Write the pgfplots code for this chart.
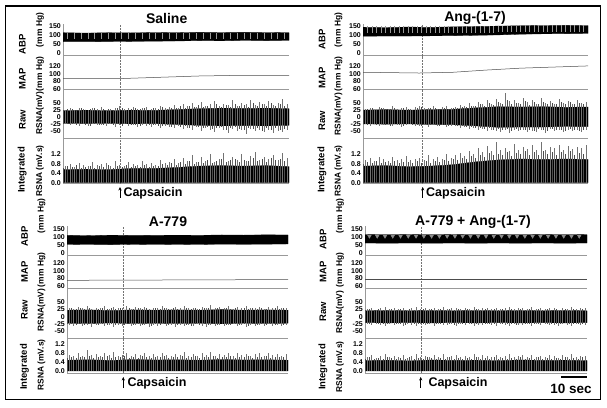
\documentclass[border=0pt]{standalone}
\usepackage{pgfplots}
\pgfplotsset{compat=1.18}
\usepackage{pgfplotstable}
\usepackage{fontspec}
\setmainfont{Liberation Sans}
\usetikzlibrary{arrows.meta}

% ---------- Saline: odd-x spikes and even-x spikes ----------
\pgfplotstableread{
x rh rl ih
1 26 -24 0.72
3 30 -28 0.80
5 24 -22 0.68
7 33 -30 0.85
9 27 -26 0.75
11 25 -33 0.70
13 31 -25 0.88
15 28 -29 0.74
17 35 -27 0.78
19 26 -31 0.82
21 29 -24 0.70
23 32 -35 0.90
25 38 -28 0.76
27 27 -26 0.72
29 30 -32 0.86
31 34 -29 0.79
33 28 -36 0.74
35 31 -27 0.92
37 36 -30 0.78
39 29 -34 0.84
41 33 -28 0.76
43 40 -38 0.95
45 30 -31 0.82
47 35 -35 0.88
49 42 -40 1.00
51 33 -33 0.85
53 45 -42 1.05
55 38 -37 0.90
57 48 -45 1.15
59 36 -36 0.86
61 52 -48 1.10
63 40 -39 0.92
65 44 -44 1.20
67 55 -52 0.88
69 38 -40 1.02
71 47 -46 1.25
73 42 -55 0.90
75 58 -43 1.08
77 40 -49 0.95
79 50 -45 1.22
81 45 -58 0.92
83 60 -41 1.12
85 42 -50 1.28
87 53 -47 0.94
89 46 -53 1.10
91 57 -44 1.00
93 41 -56 1.18
95 50 -48 0.96
97 62 -51 1.24
99 45 -46 1.05
}\saline
\pgfplotstableread{
x rh rl ih
0 24 -23 0.62
2 27 -26 0.70
4 29 -24 0.66
6 25 -28 0.74
8 30 -25 0.64
10 26 -27 0.68
12 28 -30 0.72
14 32 -24 0.63
16 25 -27 0.70
18 29 -29 0.66
20 27 -25 0.75
22 24 -28 0.64
24 30 -26 0.70
26 33 -30 0.67
28 26 -25 0.73
30 29 -28 0.65
32 31 -27 0.71
34 27 -31 0.68
36 30 -26 0.74
38 26 -29 0.66
40 32 -27 0.72
42 28 -30 0.70
44 34 -32 0.78
46 29 -28 0.74
48 33 -34 0.82
50 30 -29 0.76
52 37 -35 0.86
54 32 -31 0.79
56 40 -38 0.92
58 34 -33 0.80
60 43 -36 0.88
62 35 -40 0.82
64 38 -34 0.95
66 33 -42 0.84
68 45 -37 0.90
70 36 -35 0.98
72 41 -44 0.86
74 34 -38 0.94
76 47 -36 1.00
78 37 -41 0.88
80 42 -46 0.96
82 36 -39 0.90
84 48 -43 1.04
86 39 -37 0.92
88 44 -48 0.98
90 37 -40 0.88
92 50 -45 1.06
94 40 -39 0.94
96 45 -47 1.00
98 38 -42 0.90
}\salineb

% ---------- Ang-(1-7) ----------
\pgfplotstableread{
x rh rl ih
1 28 -26 0.95
3 33 -30 1.05
5 26 -24 0.90
7 35 -33 1.10
9 30 -28 0.98
11 27 -25 0.92
13 38 -31 1.08
15 29 -27 0.96
17 32 -35 1.02
19 36 -29 1.12
21 28 -26 0.94
23 34 -32 1.00
25 40 -30 1.06
27 30 -28 0.95
29 33 -34 1.15
31 37 -29 1.00
33 29 -31 1.08
35 35 -27 0.98
37 39 -36 1.20
39 31 -30 1.05
41 36 -33 1.15
43 42 -38 1.25
45 38 -35 1.12
47 48 -42 1.35
49 40 -40 1.22
51 52 -46 1.45
53 44 -43 1.30
55 58 -50 1.55
57 46 -45 1.32
59 62 -48 1.70
61 50 -52 1.40
63 85 -44 1.48
65 55 -55 1.35
67 60 -47 1.62
69 48 -50 1.38
71 65 -45 1.50
73 52 -53 1.42
75 58 -48 1.58
77 47 -51 1.36
79 68 -46 1.72
81 50 -55 1.40
83 56 -43 1.52
85 45 -49 1.45
87 62 -45 1.60
89 49 -52 1.38
91 55 -44 1.55
93 46 -50 1.42
95 60 -47 1.50
97 50 -53 1.48
99 54 -45 1.58
}\angdata
\pgfplotstableread{
x rh rl ih
0 25 -24 0.80
2 28 -27 0.86
4 30 -25 0.82
6 26 -29 0.90
8 31 -26 0.84
10 27 -28 0.88
12 29 -31 0.85
14 33 -25 0.92
16 26 -28 0.83
18 30 -30 0.89
20 28 -26 0.86
22 25 -29 0.82
24 31 -27 0.90
26 34 -31 0.85
28 27 -26 0.91
30 30 -29 0.84
32 32 -28 0.92
34 28 -32 0.88
36 31 -27 0.94
38 29 -30 0.90
40 33 -29 0.98
42 30 -33 0.95
44 36 -31 1.04
46 34 -36 1.00
48 40 -34 1.12
50 37 -39 1.06
52 45 -37 1.18
54 40 -42 1.10
56 48 -40 1.25
58 42 -44 1.15
60 52 -41 1.22
62 45 -46 1.18
64 58 -43 1.30
66 44 -48 1.14
68 50 -42 1.26
70 46 -45 1.20
72 55 -47 1.32
74 43 -44 1.16
76 52 -49 1.28
78 47 -43 1.18
80 54 -46 1.34
82 44 -48 1.20
84 50 -42 1.30
86 46 -47 1.16
88 53 -45 1.28
90 45 -49 1.22
92 51 -43 1.32
94 44 -46 1.18
96 49 -48 1.26
98 46 -44 1.20
}\angdatab

% ---------- A-779 ----------
\pgfplotstableread{
x rh rl ih
1 30 -28 0.72
3 26 -33 0.65
5 34 -25 0.80
7 28 -30 0.68
9 36 -27 0.95
11 27 -35 0.70
13 31 -29 0.74
15 29 -26 0.66
17 35 -32 0.78
19 26 -28 0.70
21 33 -34 0.85
23 28 -27 0.68
25 30 -30 0.72
27 36 -26 0.80
29 27 -33 0.66
31 32 -29 0.75
33 29 -31 0.70
35 34 -27 0.82
37 26 -35 0.65
39 31 -28 0.74
41 28 -30 0.68
43 35 -26 0.78
45 30 -32 0.72
47 27 -29 0.66
49 33 -34 0.76
51 29 -27 0.70
53 36 -31 0.84
55 28 -28 0.68
57 31 -33 0.74
59 27 -26 0.66
61 34 -30 0.80
63 30 -35 0.70
65 38 -28 0.86
67 28 -31 0.68
69 32 -27 0.75
71 29 -33 0.70
73 35 -29 0.78
75 27 -26 0.65
77 33 -32 0.82
79 30 -28 0.70
81 36 -34 0.76
83 28 -27 0.68
85 31 -30 0.74
87 34 -29 0.80
89 27 -33 0.66
91 32 -26 0.78
93 29 -31 0.70
95 35 -28 0.76
97 28 -32 0.68
99 31 -27 0.74
}\adata
\pgfplotstableread{
x rh rl ih
0 24 -25 0.58
2 28 -23 0.62
4 25 -27 0.56
6 30 -24 0.64
8 26 -28 0.60
10 29 -25 0.66
12 24 -26 0.58
14 27 -29 0.63
16 31 -24 0.60
18 25 -27 0.65
20 28 -25 0.57
22 26 -28 0.62
24 30 -26 0.60
26 24 -29 0.66
28 29 -24 0.58
30 26 -27 0.63
32 31 -25 0.59
34 25 -28 0.65
36 28 -26 0.61
38 24 -30 0.58
40 30 -25 0.64
42 26 -27 0.60
44 28 -24 0.66
46 25 -29 0.58
48 31 -26 0.63
50 27 -28 0.60
52 24 -25 0.65
54 30 -27 0.59
56 26 -30 0.62
58 29 -24 0.66
60 25 -27 0.58
62 28 -25 0.64
64 31 -29 0.60
66 24 -26 0.65
68 29 -28 0.58
70 26 -24 0.62
72 30 -27 0.60
74 25 -29 0.66
76 28 -25 0.59
78 24 -28 0.63
80 30 -26 0.60
82 26 -30 0.65
84 29 -24 0.58
86 25 -27 0.62
88 31 -25 0.60
90 27 -29 0.66
92 24 -26 0.58
94 29 -28 0.63
96 26 -24 0.60
98 28 -27 0.64
}\adatab

% ---------- A-779 + Ang-(1-7) ----------
\pgfplotstableread{
x rh rl ih
1 26 -25 0.62
3 30 -29 0.70
5 24 -23 0.58
7 28 -27 0.66
9 32 -31 0.74
11 25 -24 0.60
13 29 -28 0.68
15 27 -26 0.64
17 31 -30 0.72
19 24 -25 0.58
21 28 -27 0.66
23 33 -32 0.76
25 26 -24 0.62
27 29 -28 0.68
29 25 -26 0.60
31 30 -30 0.72
33 27 -25 0.64
35 32 -29 0.74
37 26 -27 0.62
39 28 -24 0.66
41 31 -30 0.70
43 25 -26 0.60
45 29 -28 0.68
47 27 -25 0.64
49 34 -31 0.76
51 26 -27 0.62
53 30 -29 0.70
55 28 -24 0.66
57 25 -28 0.60
59 31 -30 0.72
61 27 -26 0.64
63 29 -28 0.68
65 33 -32 0.74
67 26 -25 0.62
69 28 -27 0.66
71 30 -29 0.70
73 25 -24 0.60
75 32 -30 0.72
77 27 -26 0.64
79 29 -28 0.68
81 26 -25 0.62
83 31 -29 0.70
85 28 -27 0.66
87 24 -31 0.58
89 30 -26 0.72
91 27 -28 0.64
93 33 -30 0.74
95 26 -25 0.62
97 29 -29 0.68
99 28 -27 0.66
}\aangdata
\pgfplotstableread{
x rh rl ih
0 22 -21 0.55
2 25 -24 0.60
4 23 -22 0.52
6 26 -25 0.58
8 21 -23 0.54
10 24 -26 0.60
12 27 -22 0.56
14 22 -25 0.52
16 25 -23 0.58
18 23 -27 0.55
20 26 -22 0.60
22 22 -24 0.53
24 24 -26 0.57
26 27 -23 0.54
28 23 -25 0.60
30 25 -22 0.56
32 22 -26 0.52
34 26 -24 0.58
36 24 -22 0.55
38 27 -25 0.60
40 23 -27 0.54
42 25 -23 0.57
44 22 -25 0.52
46 26 -22 0.59
48 24 -26 0.55
50 27 -24 0.60
52 23 -22 0.53
54 25 -26 0.58
56 22 -23 0.55
58 26 -25 0.60
60 24 -22 0.54
62 27 -26 0.57
64 23 -24 0.52
66 25 -23 0.59
68 22 -27 0.55
70 26 -22 0.60
72 24 -25 0.53
74 27 -23 0.58
76 23 -26 0.55
78 25 -24 0.60
80 22 -22 0.54
82 26 -25 0.57
84 24 -23 0.52
86 27 -26 0.59
88 23 -24 0.55
90 25 -22 0.60
92 22 -25 0.53
94 26 -23 0.58
96 24 -26 0.55
98 27 -24 0.60
}\aangdatab

\pgfplotsset{
  trace/.style={scale only axis, anchor=south west, xmin=0, xmax=100,
    axis x line*=bottom, axis y line*=left,
    axis line style={black!40, line width=0.4pt},
    xtick=\empty, major tick length=0pt,
    yticklabel style={font=\fontsize{7}{7}\selectfont\bfseries, inner sep=0.5pt, xshift=-1.5pt},
  },
  abp/.style={trace, ytick={0,50,100,150}, yticklabels={0,50,100,150}},
  map/.style={trace, ytick={60,80,100,120}, yticklabels={60,80,100,120}},
  raw/.style={trace, ytick={-50,-25,0,25,50}, yticklabels={-50,-25,0,25,50}},
  int/.style={trace, ytick={0,0.4,0.8,1.2}, yticklabels={0.0,0.4,0.8,1.2}},
  capline/.style={black!55, densely dotted, line width=0.45pt},
  band/.style={fill=black, draw=black, line width=0.3pt},
  spike/.style={ycomb, black!55, line width=0.35pt, mark=none},
  spikeb/.style={ycomb, black!70, line width=0.38pt, mark=none},
  stripe/.style={only marks, mark=|, black!40, line width=0.55pt},
  mapline/.style={black!70, line width=0.5pt, mark=none},
}

\begin{document}
\begin{tikzpicture}[x=1pt,y=1pt]
\useasboundingbox (0,0) rectangle (607,407);
\fill[white] (0,0) rectangle (607,407);

%%%%%%%%%%%%%%%% Saline (top-left) %%%%%%%%%%%%%%%%
\begin{axis}[abp, at={(63pt,351.3pt)}, width=226pt, height=31.8pt, ymin=-13, ymax=160]
\addplot[capline] coordinates {(25.2,-13)(25.2,160)};
\addplot[band] coordinates {(0,112)(10,110)(20,112)(30,111)(40,113)(50,112)(60,114)(70,113)(80,114)(90,113)(100,112)(100,70)(90,69)(80,70)(70,68)(60,69)(50,67)(40,66)(30,65)(20,64)(10,63)(0,63)} -- cycle;
\addplot[stripe, mark size=2.8pt] coordinates {(2,95)(5,95)(8,95)(11,95)(14,95)(17,95)(20,95)(23,95)(26,95)(29,95)(32,95)(35,95)(38,95)(41,95)(44,95)(47,95)(50,95)(53,95)(56,95)(59,95)(62,95)(65,95)(68,95)(71,95)(74,95)(77,95)(80,95)(83,95)(86,95)(89,95)(92,95)(95,95)(98,95)};
\end{axis}
\begin{axis}[map, at={(63pt,317.7pt)}, width=226pt, height=33.6pt, ymin=58.4, ymax=148.4]
\addplot[capline] coordinates {(25.2,58.4)(25.2,148.4)};
\addplot[mapline] coordinates {(0,87)(25,87)(40,90)(60,94)(80,96)(100,96)};
\end{axis}
\begin{axis}[raw, at={(63pt,269pt)}, width=226pt, height=48.7pt, ymin=-73.4, ymax=96.9]
\addplot[capline] coordinates {(25.2,-73.4)(25.2,96.9)};
\addplot[band] coordinates {(0,22)(10,24)(20,22)(30,24)(40,23)(50,26)(60,29)(70,31)(80,30)(90,31)(100,29)(100,-29)(90,-31)(80,-30)(70,-31)(60,-29)(50,-26)(40,-23)(30,-24)(20,-22)(10,-23)(0,-22)} -- cycle;
\addplot[spike] table[x=x, y=rh] {\saline};
\addplot[spike] table[x=x, y=rl] {\saline};
\addplot[spikeb] table[x=x, y=rh] {\salineb};
\addplot[spikeb] table[x=x, y=rl] {\salineb};
\end{axis}
\begin{axis}[int, at={(63pt,223.3pt)}, width=226pt, height=45.7pt, ymin=-0.042, ymax=1.886]
\addplot[capline] coordinates {(25.2,-0.042)(25.2,1.886)};
\addplot[band] coordinates {(0,0)(0,0.55)(10,0.57)(20,0.55)(30,0.6)(40,0.6)(50,0.64)(60,0.7)(70,0.72)(80,0.7)(90,0.72)(100,0.68)(100,0)} -- cycle;
\addplot[spike] table[x=x, y=ih] {\saline};
\addplot[spikeb] table[x=x, y=ih] {\salineb};
\end{axis}

%%%%%%%%%%%%%%%% Ang-(1-7) (top-right) %%%%%%%%%%%%%%%%
\begin{axis}[abp, at={(363pt,351.3pt)}, width=225pt, height=31.8pt, ymin=-13, ymax=160]
\addplot[capline] coordinates {(26.5,-13)(26.5,160)};
\addplot[band] coordinates {(0,142)(10,140)(20,143)(30,141)(40,144)(50,146)(60,148)(70,150)(80,151)(90,152)(100,151)(100,108)(90,107)(80,106)(70,104)(60,100)(50,98)(40,96)(30,95)(20,94)(10,94)(0,93)} -- cycle;
\addplot[stripe, mark size=3.4pt] coordinates {(2,128)(4,128)(6,128)(8,128)(10,128)(12,128)(14,128)(16,128)(18,128)(20,128)(22,128)(24,128)(26,128)(28,128)(30,128)(32,128)(34,128)(36,128)(38,128)(40,128)(42,128)(44,128)(46,128)(48,128)(50,130)(52,130)(54,130)(56,130)(58,130)(60,132)(62,132)(64,132)(66,132)(68,132)(70,134)(72,134)(74,134)(76,134)(78,134)(80,135)(82,135)(84,135)(86,135)(88,135)(90,136)(92,136)(94,136)(96,136)(98,136)};
\end{axis}
\begin{axis}[map, at={(363pt,317.7pt)}, width=225pt, height=33.6pt, ymin=58.4, ymax=148.4]
\addplot[capline] coordinates {(26.5,58.4)(26.5,148.4)};
\addplot[mapline] coordinates {(0,104)(25,102)(40,104)(55,110)(70,115)(85,118)(100,121)};
\end{axis}
\begin{axis}[raw, at={(363pt,269pt)}, width=225pt, height=48.7pt, ymin=-73.4, ymax=96.9]
\addplot[capline] coordinates {(26.5,-73.4)(26.5,96.9)};
\addplot[band] coordinates {(0,24)(10,26)(20,24)(30,26)(40,27)(50,32)(60,36)(70,35)(80,36)(90,34)(100,35)(100,-34)(90,-33)(80,-35)(70,-35)(60,-36)(50,-31)(40,-27)(30,-26)(20,-24)(10,-25)(0,-24)} -- cycle;
\addplot[spike] table[x=x, y=rh] {\angdata};
\addplot[spike] table[x=x, y=rl] {\angdata};
\addplot[spikeb] table[x=x, y=rh] {\angdatab};
\addplot[spikeb] table[x=x, y=rl] {\angdatab};
\end{axis}
\begin{axis}[int, at={(363pt,223.3pt)}, width=225pt, height=45.7pt, ymin=-0.042, ymax=1.886]
\addplot[capline] coordinates {(26.5,-0.042)(26.5,1.886)};
\addplot[band] coordinates {(0,0)(0,0.7)(10,0.72)(20,0.68)(30,0.7)(40,0.76)(50,0.88)(60,0.96)(70,1.0)(80,0.98)(90,1.0)(100,0.98)(100,0)} -- cycle;
\addplot[spike] table[x=x, y=ih] {\angdata};
\addplot[spikeb] table[x=x, y=ih] {\angdatab};
\end{axis}

%%%%%%%%%%%%%%%% A-779 (bottom-left) %%%%%%%%%%%%%%%%
\begin{axis}[abp, at={(67pt,152pt)}, width=221pt, height=29pt, ymin=-10.6, ymax=170]
\addplot[capline] coordinates {(25.5,-10.6)(25.5,170)};
\addplot[band] coordinates {(0,112)(10,110)(20,113)(30,111)(40,112)(50,113)(60,112)(70,114)(80,113)(90,115)(100,114)(100,58)(90,57)(80,56)(70,57)(60,55)(50,56)(40,55)(30,56)(20,54)(10,55)(0,56)} -- cycle;
\end{axis}
\begin{axis}[map, at={(67pt,118.7pt)}, width=221pt, height=33.3pt, ymin=53.9, ymax=142]
\addplot[capline] coordinates {(25.5,53.9)(25.5,142)};
\addplot[mapline] coordinates {(0,75)(50,76)(100,77)};
\end{axis}
\begin{axis}[raw, at={(67pt,69.3pt)}, width=221pt, height=49.4pt, ymin=-70.9, ymax=95.9]
\addplot[capline] coordinates {(25.5,-70.9)(25.5,95.9)};
\addplot[band] coordinates {(0,22)(10,23)(20,21)(30,23)(40,22)(50,23)(60,22)(70,24)(80,22)(90,23)(100,22)(100,-22)(90,-23)(80,-22)(70,-24)(60,-22)(50,-23)(40,-22)(30,-23)(20,-21)(10,-23)(0,-22)} -- cycle;
\addplot[spike] table[x=x, y=rh] {\adata};
\addplot[spike] table[x=x, y=rl] {\adata};
\addplot[spikeb] table[x=x, y=rh] {\adatab};
\addplot[spikeb] table[x=x, y=rl] {\adatab};
\end{axis}
\begin{axis}[int, at={(67pt,34.3pt)}, width=221pt, height=35pt, ymin=-0.076, ymax=1.48]
\addplot[capline] coordinates {(25.5,-0.076)(25.5,1.48)};
\addplot[band] coordinates {(0,0)(0,0.48)(10,0.5)(20,0.47)(30,0.51)(40,0.49)(50,0.5)(60,0.48)(70,0.51)(80,0.49)(90,0.5)(100,0.48)(100,0)} -- cycle;
\addplot[spike] table[x=x, y=ih] {\adata};
\addplot[spikeb] table[x=x, y=ih] {\adatab};
\end{axis}

%%%%%%%%%%%%%%%% A-779 + Ang-(1-7) (bottom-right) %%%%%%%%%%%%%%%%
\begin{axis}[abp, at={(365pt,152pt)}, width=222pt, height=29pt, ymin=-10.6, ymax=170]
\addplot[capline] coordinates {(25.1,-10.6)(25.1,170)};
\addplot[band] coordinates {(0,116)(10,117)(20,116)(30,117)(40,116)(50,117)(60,116)(70,117)(80,116)(90,117)(100,116)(100,64)(90,63)(80,64)(70,63)(60,64)(50,63)(40,64)(30,63)(20,64)(10,63)(0,64)} -- cycle;
\addplot[only marks, mark=triangle*, black!45, mark size=2.2pt, mark options={rotate=180}] coordinates {(2,107)(5.5,107)(9,107)(12.5,107)(16,107)(19.5,107)(23,107)(26.5,107)(30,107)(33.5,107)(37,107)(40.5,107)(44,107)(47.5,107)(51,107)(54.5,107)(58,107)(61.5,107)(65,107)(68.5,107)(72,107)(75.5,107)(79,107)(82.5,107)(86,107)(89.5,107)(93,107)(96.5,107)};
\end{axis}
\begin{axis}[map, at={(365pt,118.7pt)}, width=222pt, height=33.3pt, ymin=53.9, ymax=142]
\addplot[capline] coordinates {(25.1,53.9)(25.1,142)};
\addplot[mapline] coordinates {(0,79)(50,79)(100,79)};
\end{axis}
\begin{axis}[raw, at={(365pt,69.3pt)}, width=222pt, height=49.4pt, ymin=-70.9, ymax=95.9]
\addplot[capline] coordinates {(25.1,-70.9)(25.1,95.9)};
\addplot[band] coordinates {(0,20)(10,21)(20,20)(30,21)(40,20)(50,21)(60,20)(70,21)(80,20)(90,21)(100,20)(100,-20)(90,-21)(80,-20)(70,-21)(60,-20)(50,-21)(40,-20)(30,-21)(20,-20)(10,-21)(0,-20)} -- cycle;
\addplot[spike] table[x=x, y=rh] {\aangdata};
\addplot[spike] table[x=x, y=rl] {\aangdata};
\addplot[spikeb] table[x=x, y=rh] {\aangdatab};
\addplot[spikeb] table[x=x, y=rl] {\aangdatab};
\end{axis}
\begin{axis}[int, at={(365pt,34.3pt)}, width=222pt, height=35pt, ymin=-0.076, ymax=1.48]
\addplot[capline] coordinates {(25.1,-0.076)(25.1,1.48)};
\addplot[band] coordinates {(0,0)(0,0.46)(10,0.48)(20,0.45)(30,0.49)(40,0.47)(50,0.48)(60,0.46)(70,0.49)(80,0.47)(90,0.48)(100,0.46)(100,0)} -- cycle;
\addplot[spike] table[x=x, y=ih] {\aangdata};
\addplot[spikeb] table[x=x, y=ih] {\aangdatab};
\end{axis}

%%%%%%%%%%%%%%%% titles %%%%%%%%%%%%%%%%
\begin{scope}[every node/.style={font=\fontsize{14}{14}\selectfont\bfseries, inner sep=0pt}]
\node at (166.7,389) {Saline};
\node at (475,389) {Ang-(1-7)};
\node at (168,185.3) {A-779};
\node at (473,185.3) {A-779 + Ang-(1-7)};
\end{scope}

%%%%%%%%%%%%%%%% y labels %%%%%%%%%%%%%%%%
\begin{scope}[every node/.style={rotate=90, inner sep=0pt, font=\fontsize{9.5}{9.5}\selectfont\bfseries}]
\node at (22.3,363) {ABP};
\node at (22.3,328) {MAP};
\node at (22.3,287) {Raw};
\node at (22.3,237) {Integrated};
\node at (322,367.5) {ABP};
\node at (322,329) {MAP};
\node at (322,286) {Raw};
\node at (322,237) {Integrated};
\node at (24.5,171) {ABP};
\node at (24.5,135) {MAP};
\node at (24.5,97) {Raw};
\node at (24.5,40) {Integrated};
\node at (323,168) {ABP};
\node at (323,135) {MAP};
\node at (323,95) {Raw};
\node at (323,40) {Integrated};
\end{scope}
\begin{scope}[every node/.style={rotate=90, inner sep=0pt, font=\fontsize{8.4}{8.4}\selectfont\bfseries}]
\node at (40,377) {(mm Hg)};
\node at (40,333) {(mm Hg)};
\node at (40,294) {RSNA(mV)};
\node at (40,236) {RSNA (mV.s)};
\node at (338.5,377) {(mm Hg)};
\node at (338.5,333) {(mm Hg)};
\node at (338.5,293) {RSNA(mV)};
\node at (338.5,236) {RSNA (mV.s)};
\node at (41.5,191) {(mm Hg)};
\node at (41.5,137) {(mm Hg)};
\node at (41.5,97) {RSNA(mV)};
\node at (41.5,42) {RSNA (mV.s)};
\node at (340,191) {(mm Hg)};
\node at (340,137) {(mm Hg)};
\node at (340,95) {RSNA(mV)};
\node at (340,40) {RSNA (mV.s)};
\end{scope}

%%%%%%%%%%%%%%%% Capsaicin markers %%%%%%%%%%%%%%%%
\begin{scope}[every node/.style={anchor=west, inner sep=0pt, font=\fontsize{12.5}{12.5}\selectfont\bfseries}]
\draw[-{Stealth[length=3.5pt,width=3.2pt]}, line width=0.7pt] (120,209) -- (120,220);
\node at (123.3,214) {Capsaicin};
\draw[-{Stealth[length=3.5pt,width=3.2pt]}, line width=0.7pt] (422.7,209) -- (422.7,220);
\node at (426,214) {Capsaicin};
\draw[-{Stealth[length=3.5pt,width=3.2pt]}, line width=0.7pt] (123.3,19) -- (123.3,30);
\node at (127.3,24) {Capsaicin};
\draw[-{Stealth[length=3.5pt,width=3.2pt]}, line width=0.7pt] (420.7,19) -- (420.7,30);
\node at (428.3,24) {Capsaicin};
\end{scope}

%%%%%%%%%%%%%%%% scale bar %%%%%%%%%%%%%%%%
\draw[line width=2pt] (561,29.7) -- (587,29.7);
\node[inner sep=0pt, font=\fontsize{13.5}{13.5}\selectfont\bfseries] at (571,18) {10 sec};

%%%%%%%%%%%%%%%% frame %%%%%%%%%%%%%%%%
\draw[line width=1.6pt] (5.5,401) rectangle (600.5,7.5);
\end{tikzpicture}
\end{document}
